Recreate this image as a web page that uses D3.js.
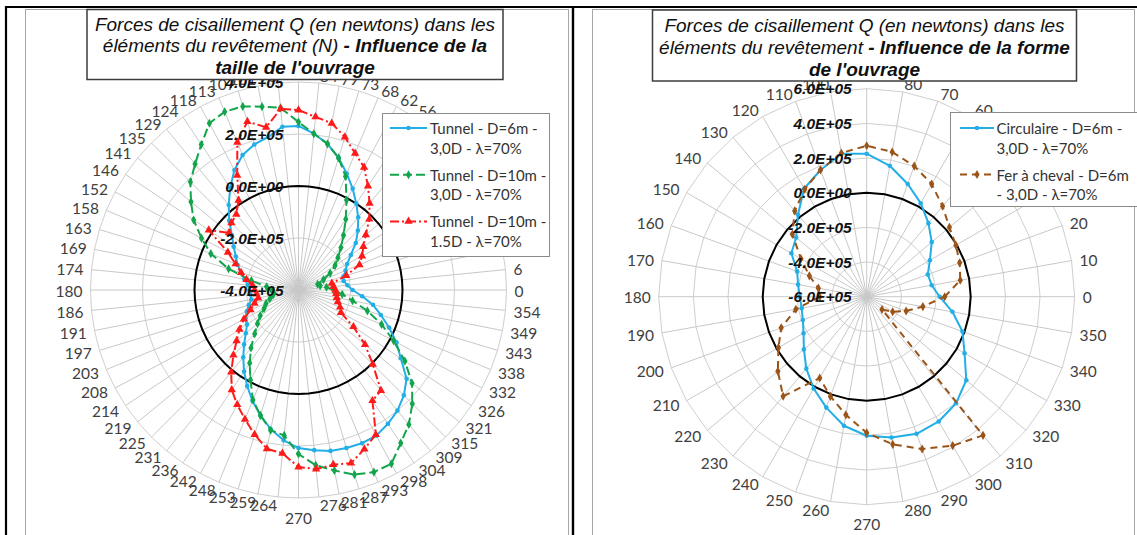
<!DOCTYPE html>
<html><head><meta charset="utf-8">
<script src="https://cdn.jsdelivr.net/npm/d3@7"></script>
<style>body{margin:0;background:#fff}svg{display:block}</style>
</head><body>
<svg id="c" width="1137" height="535"></svg>
<script>
// ---------- data ----------
const leftAngles = d3.range(64).map(k => k * 360 / 64);
const leftAngleLabels = ["0","6","11","17","23","28","34","39","45","51","56","62","68","73","79","84","90","96","101","107","113","118","124","129","135","141","146","152","158","163","169","174","180","186","191","197","203","208","214","219","225","231","236","242","248","253","259","264","270","276","281","287","293","298","304","309","315","321","326","332","338","343","349","354"];
const leftTicks = [-400000, -200000, 0, 200000, 400000];
const leftTickLabels = ["-4.0E+05","-2.0E+05","0.0E+00","2.0E+05","4.0E+05"];

// Tunnel - D=6m - 3,0D
const leftBlue = [-192000,-211000,-223000,-219000,-204000,-188000,-158000,-115000,-77000,-38000,0,42000,85000,131000,173000,204000,231000,231000,200000,185000,162000,123000,73000,23000,-23000,-69000,-100000,-127000,-146000,-169000,-188000,-204000,-211000,-215000,-215000,-200000,-185000,-169000,-162000,-138000,-104000,-65000,-23000,19000,62000,104000,146000,181000,208000,219000,231000,235000,238000,235000,219000,200000,173000,138000,73000,27000,-23000,-69000,-108000,-154000];
// Tunnel - D=10m - 3,0D
const leftGreen = [-265000,-292000,-315000,-323000,-296000,-262000,-231000,-204000,-169000,-127000,-73000,-8000,73000,131000,173000,204000,246000,304000,319000,338000,342000,327000,273000,227000,188000,135000,85000,23000,-35000,-119000,-215000,-277000,-296000,-304000,-300000,-285000,-265000,-250000,-223000,-196000,-162000,-112000,-62000,-8000,58000,104000,150000,162000,231000,277000,308000,342000,358000,358000,308000,269000,219000,165000,92000,15000,-54000,-123000,-188000,-231000];
// Tunnel - D=10m - 1.5D
const leftRed = [-258000,-265000,-269000,-208000,-146000,-123000,-100000,-65000,-15000,31000,81000,135000,169000,215000,254000,269000,292000,300000,238000,277000,215000,100000,15000,-23000,-35000,-54000,15000,-92000,-138000,-169000,-196000,-223000,-231000,-238000,-242000,-223000,-200000,-162000,-127000,-92000,-46000,8000,62000,100000,138000,181000,223000,231000,281000,292000,285000,296000,262000,231000,112000,100000,4000,-69000,-146000,-215000,-227000,-242000,-250000,-254000];

const rightAngles = d3.range(36).map(k => k * 10);
const rightAngleLabels = rightAngles.map(a => String(a));
const rightTicks = [-600000,-400000,-200000,0,200000,400000,600000];
const rightTickLabels = ["-6.0E+05","-4.0E+05","-2.0E+05","0.0E+00","2.0E+05","4.0E+05","6.0E+05"];
// Circulaire - D=6m - 3,0D
const rightBlue = [-179000,-219000,-225000,-179000,-110000,-46000,23000,92000,167000,225000,237000,178000,121000,17000,-69000,-98000,-173000,-198000,-214000,-219000,-208000,-179000,-127000,-58000,12000,81000,156000,202000,225000,242000,231000,202000,150000,52000,-12000,-98000];
// Fer à cheval - D=6m - 3,0D
const rightBrown = [-150000,-52000,-29000,-6000,23000,81000,150000,202000,248000,271000,242000,179000,115000,46000,-40000,-162000,-248000,-317000,-329000,-185000,-75000,-12000,69000,150000,-58000,12000,92000,185000,265000,335000,392000,444000,-485000,-427000,-358000,-271000];

const legendLeft = [
  ["Tunnel - D=6m -","3,0D - λ=70%"],
  ["Tunnel - D=10m -","3,0D - λ=70%"],
  ["Tunnel - D=10m -","1.5D - λ=70%"]
];
const legendRight = [
  ["Circulaire - D=6m -","3,0D - λ=70%"],
  ["Fer à cheval - D=6m","- 3,0D - λ=70%"]
];

// ---------- styles ----------
const BLUE = "#22aee6", GREEN = "#13a54b", RED = "#ff1a1a", BROWN = "#9a5418";
const styles = {
  blue:  {color: BLUE,  dash: null,        marker: "circle"},
  green: {color: GREEN, dash: "9,4",       marker: "diamond"},
  red:   {color: RED,   dash: "9,3,2,3",   marker: "triangle"},
  brown: {color: BROWN, dash: "7,5",       marker: "diamond"}
};

const svg = d3.select("#c");
const LAB_FONT = "Lato, 'Open Sans', sans-serif";
const TITLE_FONT = "'Liberation Sans', Arial, sans-serif";

// frame
svg.append("rect").attr("x",25.5).attr("y",9.5).attr("width",543).attr("height",540).attr("fill","none").attr("stroke","#a6a6a6");
svg.append("rect").attr("x",592.5).attr("y",9.5).attr("width",542).attr("height",540).attr("fill","none").attr("stroke","#a6a6a6");
svg.append("line").attr("x1",6).attr("x2",6).attr("y1",6).attr("y2",535).attr("stroke","#000").attr("stroke-width",2.2);
svg.append("line").attr("x1",5).attr("x2",1137).attr("y1",7).attr("y2",7).attr("stroke","#000").attr("stroke-width",2.2);
svg.append("line").attr("x1",573).attr("x2",573).attr("y1",6).attr("y2",535).attr("stroke","#000").attr("stroke-width",2.4);

function marker(g, type, x, y, color) {
  if (type === "circle") {
    g.append("circle").attr("cx",x).attr("cy",y).attr("r",2.3).attr("fill",color);
  } else {
    const sym = type === "diamond" ? d3.symbolDiamond : d3.symbolTriangle;
    const size = type === "diamond" ? 24 : 30;
    g.append("path").attr("d", d3.symbol().type(sym).size(size)())
      .attr("transform", `translate(${x},${y})`).attr("fill", color);
  }
}

function radar(cfg) {
  const {cx, cy, R, angles, labels, ticks, tickLabels, series} = cfg;
  const r = d3.scaleLinear().domain([ticks[0], ticks[ticks.length-1]]).range([0, R]);
  const ang = d3.scaleLinear().domain([0, 360]).range([Math.PI/2, Math.PI/2 - 2*Math.PI]); // d3 radial angle
  const rad = a => a * Math.PI / 180;
  const g = svg.append("g");
  const ring = d3.lineRadial().angle(d => ang(d)).curve(d3.curveLinearClosed);
  ticks.slice(1).forEach(t => {
    g.append("path").attr("transform",`translate(${cx},${cy})`)
      .attr("d", ring.radius(r(t))(angles))
      .attr("fill","none").attr("stroke", "#cfcfcf").attr("stroke-width",1);
  });
  angles.forEach(a => {
    g.append("line").attr("x1",cx).attr("y1",cy)
      .attr("x2", cx + R*Math.cos(rad(a))).attr("y2", cy - R*Math.sin(rad(a)))
      .attr("stroke","#c8c8c8").attr("stroke-width",1);
  });
  g.append("path").attr("transform",`translate(${cx},${cy})`)
    .attr("d", ring.radius(r(0))(angles))
    .attr("fill","none").attr("stroke","#000").attr("stroke-width",2);
  series.forEach(s => {
    const st = styles[s.style];
    const pts = angles.map((a, i) => ({a, v: s.values[i]}));
    const line = d3.lineRadial().angle(d => ang(d.a)).radius(d => r(d.v)).curve(d3.curveLinearClosed);
    g.append("path").attr("transform",`translate(${cx},${cy})`).attr("d", line(pts))
      .attr("fill","none").attr("stroke", st.color).attr("stroke-width",2)
      .attr("stroke-dasharray", st.dash).attr("stroke-linejoin","round");
    pts.forEach(p => marker(g, st.marker, cx + r(p.v)*Math.cos(rad(p.a)), cy - r(p.v)*Math.sin(rad(p.a)), st.color));
  });
  // category labels: anchored at spoke end + 8px, side-anchored like Excel
  angles.forEach((a, i) => {
    const c = Math.cos(rad(a)), sn = Math.sin(rad(a));
    const anchor = c > 0.01 ? "start" : (c < -0.01 ? "end" : "middle");
    let y = cy - (R + 8) * sn;
    if (anchor === "middle") y -= Math.sign(sn) * 11;
    g.append("text").text(labels[i])
      .attr("font-family", LAB_FONT).attr("font-size", 15.5).attr("fill","#404040")
      .attr("text-anchor", anchor).attr("dominant-baseline","central")
      .attr("x", cx + (R + 8) * c).attr("y", y + 0.5);
  });
  ticks.forEach((t, i) => {
    g.append("text").text(tickLabels[i]).attr("x", cx - 15).attr("y", cy - r(t))
      .attr("text-anchor","end").attr("dominant-baseline","central")
      .attr("font-family", TITLE_FONT).attr("font-weight","bold").attr("font-style","italic")
      .attr("font-size", 15.5).attr("fill","#111");
  });
}

function legend(box, items, styleKeys, lineX1, lineX2, textX, y0, dy) {
  svg.append("rect").attr("x",box[0]).attr("y",box[1]).attr("width",box[2]).attr("height",box[3])
    .attr("fill","#fff").attr("stroke","#8a8a8a").attr("stroke-width",1);
  items.forEach((lines, i) => {
    const st = styles[styleKeys[i]];
    const y = y0 + i*dy;
    svg.append("line").attr("x1",lineX1).attr("x2",lineX2).attr("y1",y).attr("y2",y)
      .attr("stroke",st.color).attr("stroke-width",2).attr("stroke-dasharray",st.dash);
    marker(svg, st.marker, (lineX1+lineX2)/2, y, st.color);
    lines.forEach((ln, j) => {
      svg.append("text").text(ln).attr("x",textX).attr("y",y + j*19.6)
        .attr("dominant-baseline","central").attr("font-family",LAB_FONT)
        .attr("font-size",15).attr("fill","#333");
    });
  });
}

function title(box, lines, cxT, y0) {
  svg.append("rect").attr("x",box[0]).attr("y",box[1]).attr("width",box[2]).attr("height",box[3])
    .attr("fill","#fff").attr("stroke","#3c3c3c").attr("stroke-width",1.5);
  lines.forEach((parts, i) => {
    const t = svg.append("text").attr("x",cxT).attr("y",y0 + i*21.8).attr("text-anchor","middle")
      .attr("dominant-baseline","central").attr("font-family",TITLE_FONT).attr("font-style","italic")
      .attr("font-size",19).attr("fill","#111");
    parts.forEach(p => t.append("tspan").text(p[0]).attr("font-weight", p[1] ? "bold" : "normal"));
  });
}

radar({cx: 298.5, cy: 290, R: 208, angles: leftAngles, labels: leftAngleLabels,
  ticks: leftTicks, tickLabels: leftTickLabels,
  series: [{values: leftBlue, style: "blue"}, {values: leftGreen, style: "green"}, {values: leftRed, style: "red"}]});
radar({cx: 866.7, cy: 296.7, R: 208, angles: rightAngles, labels: rightAngleLabels,
  ticks: rightTicks, tickLabels: rightTickLabels,
  series: [{values: rightBlue, style: "blue"}, {values: rightBrown, style: "brown"}]});

legend([382.5,113.5,167,143], legendLeft, ["blue","green","red"], 390, 427, 430, 128, 46.7);
legend([950.5,112.5,200,94], legendRight, ["blue","brown"], 960, 994, 996.5, 128, 46.5);

title([87,9.5,416,70], [
  [["Forces de cisaillement Q (en newtons) dans les", false]],
  [["éléments du revêtement (N) ", false], ["- Influence de la", true]],
  [["taille de l'ouvrage", true]]
], 295, 23.5);
title([652.5,10,424,71], [
  [["Forces de cisaillement Q (en newtons) dans les", false]],
  [["éléments du revêtement ", false], ["- Influence de la forme", true]],
  [["de l'ouvrage", true]]
], 864.5, 25);
</script>
</body></html>
